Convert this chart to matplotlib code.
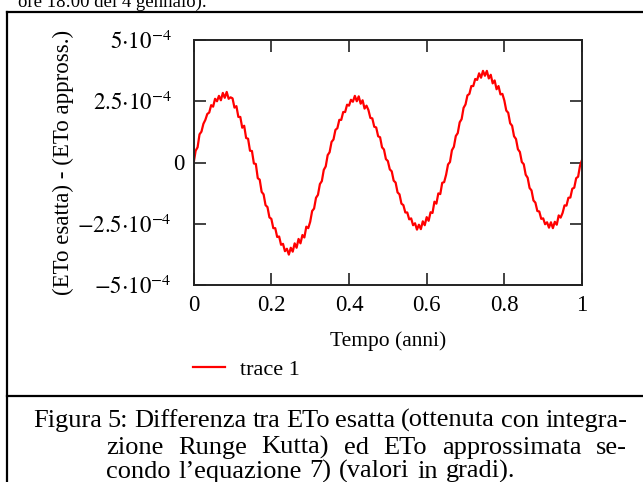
import matplotlib
matplotlib.use("Agg")
import matplotlib.pyplot as plt
from matplotlib.lines import Line2D
from matplotlib.transforms import ScaledTranslation
import numpy as np

plt.rcParams["font.family"] = ["Liberation Serif", "DejaVu Serif"]
plt.rcParams["mathtext.fontset"] = "stix"

W, H = 643, 482

# time axis (years), one sample every 0.005
TEMPO = [
    0.000, 0.005, 0.010, 0.015, 0.020, 0.025, 0.030, 0.035, 0.040, 0.045,
    0.050, 0.055, 0.060, 0.065, 0.070, 0.075, 0.080, 0.085, 0.090, 0.095,
    0.100, 0.105, 0.110, 0.115, 0.120, 0.125, 0.130, 0.135, 0.140, 0.145,
    0.150, 0.155, 0.160, 0.165, 0.170, 0.175, 0.180, 0.185, 0.190, 0.195,
    0.200, 0.205, 0.210, 0.215, 0.220, 0.225, 0.230, 0.235, 0.240, 0.245,
    0.250, 0.255, 0.260, 0.265, 0.270, 0.275, 0.280, 0.285, 0.290, 0.295,
    0.300, 0.305, 0.310, 0.315, 0.320, 0.325, 0.330, 0.335, 0.340, 0.345,
    0.350, 0.355, 0.360, 0.365, 0.370, 0.375, 0.380, 0.385, 0.390, 0.395,
    0.400, 0.405, 0.410, 0.415, 0.420, 0.425, 0.430, 0.435, 0.440, 0.445,
    0.450, 0.455, 0.460, 0.465, 0.470, 0.475, 0.480, 0.485, 0.490, 0.495,
    0.500, 0.505, 0.510, 0.515, 0.520, 0.525, 0.530, 0.535, 0.540, 0.545,
    0.550, 0.555, 0.560, 0.565, 0.570, 0.575, 0.580, 0.585, 0.590, 0.595,
    0.600, 0.605, 0.610, 0.615, 0.620, 0.625, 0.630, 0.635, 0.640, 0.645,
    0.650, 0.655, 0.660, 0.665, 0.670, 0.675, 0.680, 0.685, 0.690, 0.695,
    0.700, 0.705, 0.710, 0.715, 0.720, 0.725, 0.730, 0.735, 0.740, 0.745,
    0.750, 0.755, 0.760, 0.765, 0.770, 0.775, 0.780, 0.785, 0.790, 0.795,
    0.800, 0.805, 0.810, 0.815, 0.820, 0.825, 0.830, 0.835, 0.840, 0.845,
    0.850, 0.855, 0.860, 0.865, 0.870, 0.875, 0.880, 0.885, 0.890, 0.895,
    0.900, 0.905, 0.910, 0.915, 0.920, 0.925, 0.930, 0.935, 0.940, 0.945,
    0.950, 0.955, 0.960, 0.965, 0.970, 0.975, 0.980, 0.985, 0.990, 0.995,
    1.000,
]

# (ETo esatta) - (ETo appross.), in units of 1e-4 degrees
DIFF_E4 = [
    0.00, 0.48, 0.62, 1.15, 1.26, 1.58, 1.74, 1.98, 2.04, 2.34,
    2.28, 2.60, 2.50, 2.72, 2.54, 2.84, 2.64, 2.88, 2.60, 2.66,
    2.62, 2.24, 2.30, 1.86, 1.86, 1.42, 1.50, 1.00, 0.97, 0.48,
    0.47, -0.04, -0.06, -0.64, -0.70, -1.20, -1.30, -1.74, -1.82, -2.24,
    -2.30, -2.68, -2.68, -3.04, -3.02, -3.36, -3.32, -3.62, -3.52, -3.76,
    -3.48, -3.64, -3.30, -3.48, -3.12, -3.30, -2.96, -3.06, -2.62, -2.68,
    -2.42, -1.98, -1.88, -1.44, -1.32, -0.88, -0.76, -0.30, -0.16, 0.30,
    0.42, 0.84, 0.94, 1.33, 1.40, 1.74, 1.74, 2.06, 2.06, 2.36,
    2.32, 2.56, 2.48, 2.72, 2.50, 2.70, 2.40, 2.54, 2.20, 2.32,
    2.14, 1.82, 1.80, 1.46, 1.43, 1.07, 1.03, 0.62, 0.53, 0.14,
    0.06, -0.28, -0.36, -0.74, -0.82, -1.22, -1.30, -1.68, -1.74, -2.04,
    -2.04, -2.32, -2.28, -2.56, -2.48, -2.74, -2.54, -2.72, -2.40, -2.56,
    -2.23, -2.38, -2.03, -2.06, -1.60, -1.68, -1.26, -1.29, -0.83, -0.80,
    -0.50, -0.08, 0.02, 0.50, 0.64, 1.08, 1.20, 1.64, 1.77, 2.23,
    2.37, 2.74, 2.80, 3.12, 3.12, 3.41, 3.37, 3.64, 3.46, 3.74,
    3.54, 3.74, 3.43, 3.58, 3.23, 3.35, 2.99, 3.12, 2.78, 2.80,
    2.53, 2.12, 2.03, 1.60, 1.50, 1.07, 0.96, 0.54, 0.43, 0.02,
    -0.07, -0.50, -0.62, -1.04, -1.14, -1.55, -1.64, -1.98, -2.00, -2.30,
    -2.28, -2.52, -2.44, -2.66, -2.44, -2.68, -2.42, -2.54, -2.16, -2.25,
    -2.06, -1.75, -1.76, -1.44, -1.43, -1.07, -1.03, -0.64, -0.58, -0.12,
    0.10,
]

X_TICKS = [0, 0.2, 0.4, 0.6, 0.8, 1]
X_TICK_LABELS = ["0", "0.2", "0.4", "0.6", "0.8", "1"]
Y_TICKS = [-5e-4, -2.5e-4, 0, 2.5e-4, 5e-4]
Y_TICK_LABELS = [
    r"$-5{\cdot}10^{-4}$",
    r"$-2.5{\cdot}10^{-4}$",
    "0",
    r"$2.5{\cdot}10^{-4}$",
    r"$5{\cdot}10^{-4}$",
]

CAPTION = [
    "Figura 5: Differenza tra ETo esatta (ottenuta con integra-",
    "zione Runge Kutta) ed ETo approssimata se-",
    "condo l\u2019equazione 7) (valori in gradi).",
]
CAPTION_SIZE = 19


def px_x(x):
    return x / W


def px_y(y):
    return 1 - y / H


fig = plt.figure(figsize=(W / 100, H / 100), dpi=100)
fig.patch.set_facecolor("white")

ax = fig.add_axes([px_x(193.7), px_y(285), (582 - 193.7) / W, 245 / H])
ax.plot(TEMPO, np.array(DIFF_E4) * 1e-4, color="#ff0000", lw=1.6, label="trace 1")
ax.set_xlim(0, 1)
ax.set_ylim(-5e-4, 5e-4)
ax.set_xticks(X_TICKS, X_TICK_LABELS)
ax.set_yticks(Y_TICKS, Y_TICK_LABELS)
ax.tick_params(direction="in", length=8.5, width=1.2, top=True, right=True,
               labelsize=16.5, color="#222222")
ax.tick_params(axis="x", pad=7.5)
ax.tick_params(axis="y", pad=6.5)
for spine in ax.spines.values():
    spine.set_linewidth(1.4)
    spine.set_color("#222222")

# the power-of-ten labels sit a little further left than the plain zero
shift = ScaledTranslation(-0.13, 0, fig.dpi_scale_trans)
for lab in ax.get_yticklabels():
    if "10" in lab.get_text():
        lab.set_transform(lab.get_transform() + shift)

ax.set_xlabel("Tempo (anni)", fontsize=15.5, va="top")
ax.xaxis.set_label_coords(0.5, -(331 - 285) / 245)
ax.set_ylabel("(ETo esatta) - (ETo appross.)", fontsize=16.5)
ax.yaxis.set_label_coords((74 - 193.7) / 388.3, 0.5)

ax.legend(loc="upper left", bbox_to_anchor=(px_x(193), px_y(359)),
          bbox_transform=fig.transFigure, frameon=False, fontsize=16,
          handlelength=1.45, handletextpad=0.65, borderpad=0, borderaxespad=0)

# frame around the figure and the caption box
frame = dict(transform=fig.transFigure, color="black", lw=1.6)
fig.add_artist(Line2D([px_x(6.5), 1], [px_y(12), px_y(12)], **frame))
fig.add_artist(Line2D([px_x(6.5), px_x(6.5)], [px_y(12), 0], **frame))
fig.add_artist(Line2D([px_x(6.5), 1], [px_y(396), px_y(396)], **frame))

# end of the preceding paragraph
fig.text(px_x(18), px_y(7), "ore 18:00 del 4 gennaio).", fontsize=13.5,
         va="baseline")


def justified(line, left, right, baseline):
    renderer = fig.canvas.get_renderer()
    words = line.split(" ")
    items = [fig.text(0, px_y(baseline), w, fontsize=CAPTION_SIZE, va="baseline")
             for w in words]
    widths = [t.get_window_extent(renderer).width for t in items]
    gap = ((right - left) - sum(widths)) / (len(words) - 1)
    x = left
    for t, w in zip(items, widths):
        t.set_x(px_x(x))
        x += w + gap


justified(CAPTION[0], 33, 627, 427)
justified(CAPTION[1], 106, 627, 454)
justified(CAPTION[2], 106, 515, 478)

fig.savefig("out.png", dpi=100)
